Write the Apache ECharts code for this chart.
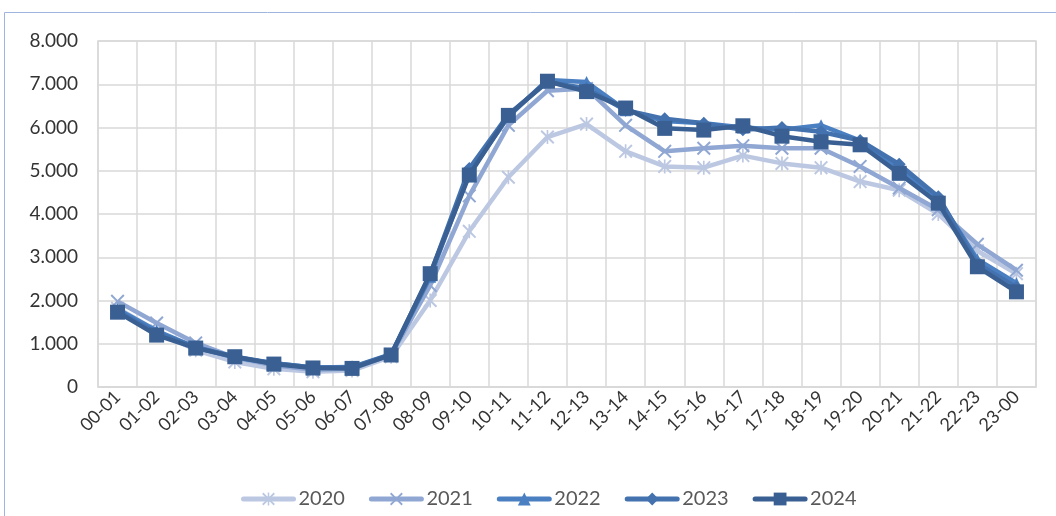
<!DOCTYPE html>
<html>
<head>
<meta charset="utf-8">
<script src="https://cdn.jsdelivr.net/npm/echarts@6/dist/echarts.min.js"></script>
<style>
  html, body { margin: 0; padding: 0; background: #fff; }
  #chart { width: 1056px; height: 516px; }
</style>
</head>
<body>
<div id="chart"></div>
<script>
// hour slots
const hours = ['00-01', '01-02', '02-03', '03-04', '04-05', '05-06', '06-07', '07-08',
  '08-09', '09-10', '10-11', '11-12', '12-13', '13-14', '14-15', '15-16',
  '16-17', '17-18', '18-19', '19-20', '20-21', '21-22', '22-23', '23-00']

const y2020 = [1.82, 1.30, 0.85, 0.58, 0.42, 0.35, 0.38, 0.70, 2.00, 3.60, 4.85, 5.78,
  6.08, 5.45, 5.10, 5.07, 5.35, 5.17, 5.07, 4.75, 4.55, 4.00, 3.15, 2.62]
const y2021 = [1.98, 1.48, 1.02, 0.68, 0.50, 0.40, 0.42, 0.75, 2.35, 4.42, 6.05, 6.85,
  6.90, 6.05, 5.45, 5.52, 5.58, 5.52, 5.52, 5.10, 4.60, 4.10, 3.30, 2.70]
const y2022 = [1.80, 1.30, 0.92, 0.68, 0.55, 0.45, 0.45, 0.75, 2.55, 4.95, 6.25, 7.10,
  7.05, 6.40, 6.15, 6.10, 6.00, 5.95, 6.05, 5.70, 5.05, 4.35, 2.95, 2.40]
const y2023 = [1.75, 1.25, 0.92, 0.70, 0.55, 0.45, 0.46, 0.76, 2.60, 5.05, 6.30, 7.05,
  6.90, 6.40, 6.20, 6.10, 5.95, 6.00, 5.90, 5.70, 5.15, 4.40, 2.85, 2.30]
const y2024 = [1.73, 1.20, 0.90, 0.70, 0.53, 0.44, 0.43, 0.74, 2.62, 4.90, 6.28, 7.07,
  6.83, 6.45, 5.98, 5.94, 6.04, 5.80, 5.67, 5.60, 4.94, 4.25, 2.78, 2.20]

const years = ['2020', '2021', '2022', '2023', '2024']
const colors = ['#bcc8e2', '#8fa7d2', '#4a7fc2', '#4372af', '#3a6093']

// marker shapes (x and asterisk drawn as filled polygons)
const xPath = 'path://M1,0 L5,4 L9,0 L10,1 L6,5 L10,9 L9,10 L5,6 L1,10 L0,9 L4,5 L0,1 Z'
const starPath = xPath + ' M4.4,0 L5.6,0 L5.6,10 L4.4,10 Z'
const symbols = [starPath, xPath, 'triangle', 'diamond', 'rect']
const symSizes = [14, 14, 12, 13, 15]

const allData = [y2020, y2021, y2022, y2023, y2024]

const font = 'Lato, "Open Sans", sans-serif'

const chart = echarts.init(document.getElementById('chart'))
chart.setOption({
  animation: false,
  color: colors,
  graphic: [{
    type: 'rect',
    silent: true,
    shape: { x: 4.5, y: 12.5, width: 1200, height: 600 },
    style: { fill: 'none', stroke: '#9fb5de', lineWidth: 1 }
  }],
  grid: {
    left: 98, right: 20, top: 41, bottom: 129,
    show: true, borderColor: '#d9d9d9', borderWidth: 1.5
  },
  legend: {
    left: 236, top: 484,
    itemWidth: 50, itemHeight: 16, itemGap: 24,
    lineStyle: { width: 5, cap: 'round' },
    textStyle: { fontFamily: font, fontSize: 20, color: '#595959' },
    data: years
  },
  xAxis: {
    type: 'category',
    data: hours,
    boundaryGap: true,
    axisLine: { lineStyle: { color: '#d9d9d9', width: 1.5 } },
    axisTick: { show: false },
    splitLine: { show: true, lineStyle: { color: '#d9d9d9', width: 1.5 } },
    axisLabel: {
      interval: 0, rotate: 45, margin: 7,
      fontFamily: font, fontSize: 18, color: '#333'
    }
  },
  yAxis: {
    type: 'value',
    min: 0, max: 8, interval: 1,
    axisLine: { show: false },
    axisTick: { show: false },
    splitLine: { lineStyle: { color: '#d9d9d9', width: 1.5 } },
    axisLabel: {
      margin: 20, fontFamily: font, fontSize: 19, color: '#333',
      formatter: v => v === 0 ? '0' : v.toFixed(3)
    }
  },
  series: years.map((name, i) => ({
    name: name,
    type: 'line',
    data: allData[i],
    symbol: symbols[i],
    symbolSize: symSizes[i],
    showAllSymbol: true,
    lineStyle: { width: 4.5, color: colors[i] },
    itemStyle: { color: colors[i] },
    z: 2 + i
  }))
})
</script>
</body>
</html>
